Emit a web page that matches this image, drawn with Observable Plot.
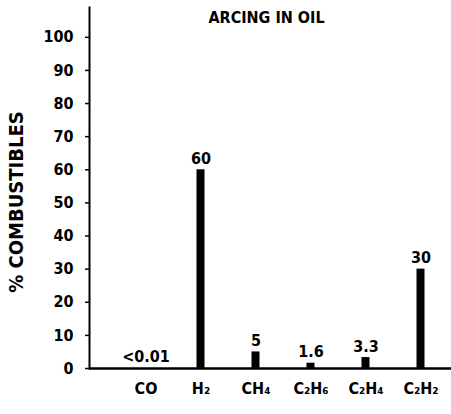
<!DOCTYPE html>
<html>
<head>
<meta charset="utf-8">
<script src="https://cdn.jsdelivr.net/npm/d3@7"></script>
<script src="https://cdn.jsdelivr.net/npm/@observablehq/plot@0.6"></script>
<style>
  html, body { margin: 0; padding: 0; background: #fff; }
  svg { display: block; }
</style>
</head>
<body>
<div id="chart"></div>
<script>
const gases = ["CO", "H2", "CH4", "C2H6", "C2H4", "C2H2"];
const gasLabels = ["CO", "H₂", "CH₄", "C₂H₆", "C₂H₄", "C₂H₂"];
const values = [0.01, 60, 5, 1.6, 3.3, 30];
const valueLabels = ["<0.01", "60", "5", "1.6", "3.3", "30"];
const yTicks = [0, 10, 20, 30, 40, 50, 60, 70, 80, 90, 100];
const title = "ARCING IN OIL";
const yLabel = "% COMBUSTIBLES";

const data = gases.map((g, i) => ({gas: g, value: values[i], label: valueLabels[i]}));
const labelOf = Object.fromEntries(gases.map((g, i) => [g, gasLabels[i]]));

const font = "'DejaVu Sans Condensed', 'Liberation Sans Narrow', 'Liberation Sans', sans-serif";

const chart = Plot.plot({
  width: 451,
  height: 414,
  marginLeft: 89,
  marginRight: 0,
  marginTop: 7,
  marginBottom: 46,
  style: {fontFamily: font, fontWeight: "bold", fontSize: "16px", color: "#000", background: "#fff"},
  x: {domain: gases, range: [117.5, 447.5], padding: 0},
  y: {domain: [0, 109]},
  marks: [
    Plot.frame({anchor: "left", stroke: "#000", strokeWidth: 2}),
    Plot.axisY({ticks: yTicks, tickSize: 4, tickPadding: 12, tickFormat: d => String(d), label: null, fontSize: 16, strokeWidth: 1.5}),
    Plot.text([yLabel], {frameAnchor: "left", textAnchor: "middle", lineAnchor: "middle", rotate: -90, dx: -73, dy: 14, fontSize: 20, fontWeight: "bold"}),
    Plot.axisX({tickSize: 0, tickPadding: 14, tickFormat: d => labelOf[d], label: null, fontSize: 16}),
    Plot.barY(data, {x: "gas", y: "value", fill: "#000", insetLeft: 23.5, insetRight: 23.5}),
    Plot.ruleY([0], {stroke: "#000", strokeWidth: 2.5}),
    Plot.text(data, {x: "gas", y: "value", text: "label", lineAnchor: "bottom", dy: -6, fontSize: 16}),
    Plot.text([title], {frameAnchor: "top", dx: -4, dy: 4, lineAnchor: "top", fontSize: 16, fontWeight: "bold"})
  ]
});
document.getElementById("chart").appendChild(chart);
</script>
</body>
</html>
